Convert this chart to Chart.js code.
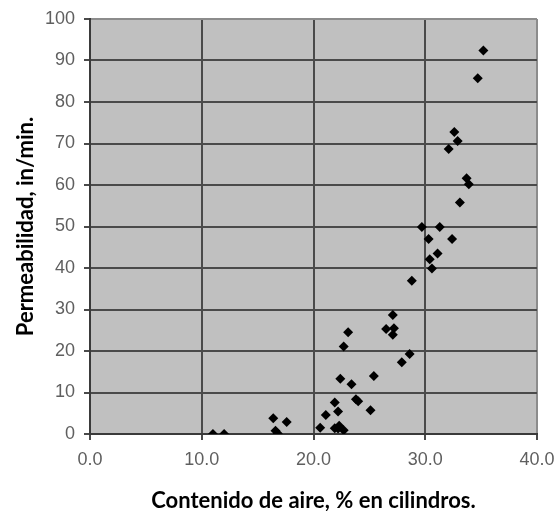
<!DOCTYPE html>
<html>
<head>
<meta charset="utf-8">
<script src="https://cdn.jsdelivr.net/npm/chart.js@4/dist/chart.umd.min.js"></script>
<style>
  html, body { margin: 0; padding: 0; background: #fff; }
  #wrap { width: 557px; height: 511px; position: relative; }
</style>
</head>
<body>
<div id="wrap"><canvas id="c"></canvas></div>
<script>
// Data
const airContent = [11.0, 12.0, 16.4, 17.6, 16.6, 16.8, 20.6, 21.1, 21.9, 22.2, 21.9, 22.3, 22.7, 22.2,
  22.4, 23.4, 23.8, 24.0, 25.1, 25.4, 22.7, 23.1, 26.5, 27.2, 27.1, 27.1, 27.9, 28.6, 28.8, 30.6,
  30.4, 31.1, 30.3, 32.4, 29.7, 31.3, 33.1, 33.9, 33.7, 32.1, 32.9, 32.6, 34.7, 35.2];
const permeability = [0, 0, 3.8, 2.9, 0.8, 0.1, 1.5, 4.6, 7.6, 5.4, 1.4, 2.0, 0.9, 1.3,
  13.3, 12.0, 8.4, 7.9, 5.7, 14.0, 21.1, 24.5, 25.3, 25.5, 23.9, 28.7, 17.3, 19.3, 36.9, 39.9,
  42.1, 43.5, 47.0, 47.0, 49.9, 49.9, 55.8, 60.2, 61.6, 68.7, 70.6, 72.8, 85.7, 92.4];
const xTicks = [0, 10, 20, 30, 40];
const yTicks = [0, 10, 20, 30, 40, 50, 60, 70, 80, 90, 100];
const xTitle = 'Contenido de aire, % en cilindros.';
const yTitle = 'Permeabilidad, in/min.';

const points = airContent.map((x, i) => ({ x: x, y: permeability[i] }));

const plotBg = {
  id: 'plotBg',
  beforeDraw(chart) {
    const { ctx, chartArea: a } = chart;
    ctx.save();
    ctx.fillStyle = '#c0c0c0';
    ctx.fillRect(a.left, a.top, a.right - a.left, a.bottom - a.top);
    ctx.restore();
  }
};

const tickFont = { family: '"Liberation Sans", Arial, sans-serif', size: 18 };
const titleFont = { family: 'Lato, "Open Sans", sans-serif', size: 22, weight: 'bold' };

new Chart(document.getElementById('c'), {
  type: 'scatter',
  data: {
    datasets: [{
      data: points,
      pointStyle: 'rectRot',
      pointRadius: 5,
      pointHoverRadius: 5,
      backgroundColor: '#000',
      borderColor: '#000',
      borderWidth: 0
    }]
  },
  plugins: [plotBg],
  options: {
    responsive: true,
    maintainAspectRatio: false,
    animation: false,
    events: [],
    layout: { padding: { top: 19, right: 20, left: 0, bottom: 0 } },
    plugins: { legend: { display: false }, tooltip: { enabled: false } },
    scales: {
      x: {
        type: 'linear',
        min: 0, max: 40,
        afterBuildTicks(s) { s.ticks = xTicks.map(v => ({ value: v })); },
        afterFit(s) { s.height = 77; s.paddingLeft = 0; s.paddingRight = 0; },
        ticks: {
          font: tickFont, color: '#5f5f5f', padding: 9, maxRotation: 0,
          callback: v => Number(v).toFixed(1)
        },
        grid: {
          color: c => (c.tick && c.tick.value === 40) ? '#8c8c8c' : '#4a4a4a',
          lineWidth: 2,
          tickLength: 6,
          tickColor: '#4a4a4a'
        },
        border: { color: '#3a3a3a', width: 2 },
        title: { display: true, text: xTitle, font: titleFont, color: '#000', padding: { top: 0, bottom: -3 } }
      },
      y: {
        type: 'linear',
        min: 0, max: 100,
        afterBuildTicks(s) { s.ticks = yTicks.map(v => ({ value: v })); },
        afterFit(s) { s.width = 90; s.paddingTop = 0; s.paddingBottom = 0; },
        ticks: { font: tickFont, color: '#5f5f5f', padding: 9 },
        grid: {
          color: c => (c.tick && c.tick.value === 100) ? '#8c8c8c' : '#4a4a4a',
          lineWidth: 2,
          tickLength: 6,
          tickColor: '#4a4a4a'
        },
        border: { color: '#3a3a3a', width: 2 },
        title: { display: true, text: yTitle, font: titleFont, color: '#000', padding: { top: 13, bottom: 0 } }
      }
    }
  }
});
</script>
</body>
</html>
